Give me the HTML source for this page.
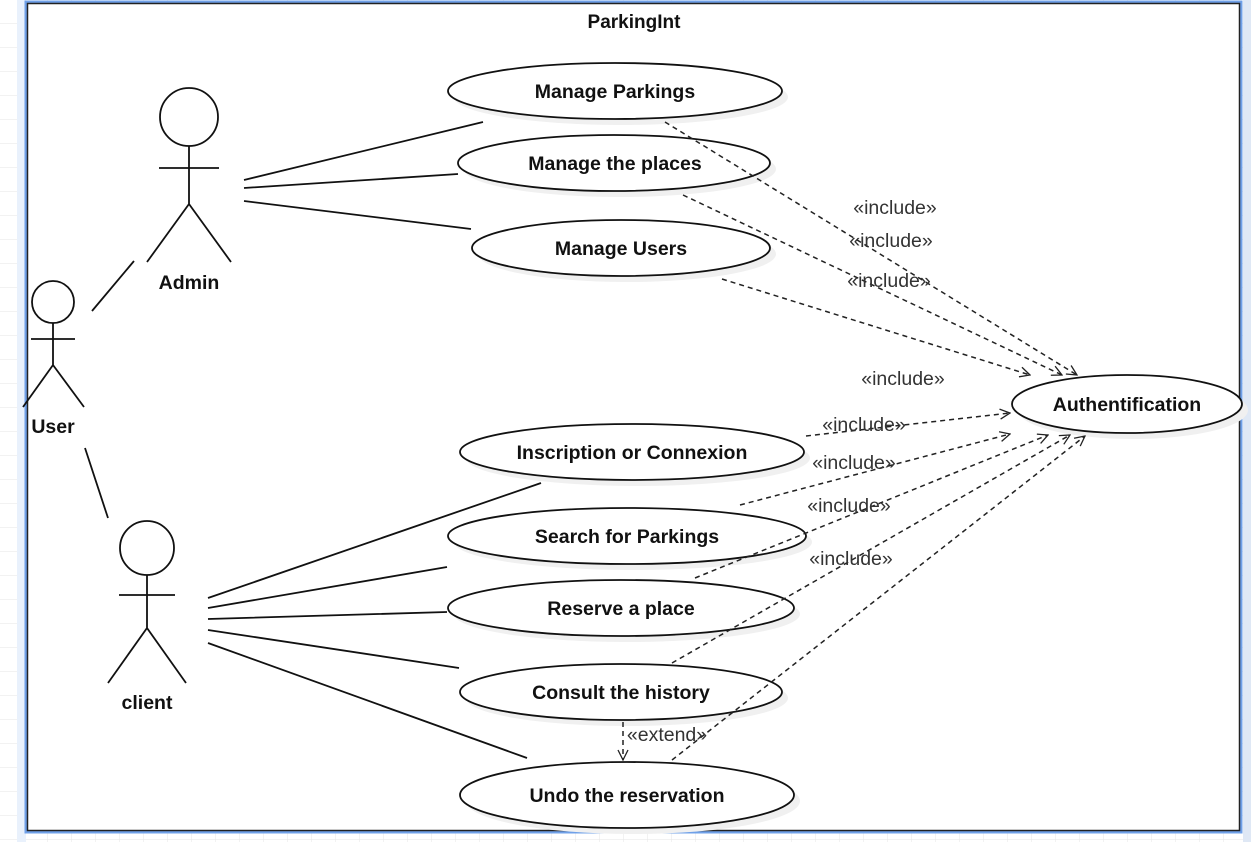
<!DOCTYPE html>
<html><head><meta charset="utf-8"><style>
html,body{margin:0;padding:0;background:#fff;}
svg{display:block;}
text{font-family:"Liberation Sans",Arial,sans-serif;}
</style></head><body>
<svg width="1251" height="842" viewBox="0 0 1251 842" xmlns="http://www.w3.org/2000/svg">
<defs>
<pattern id="g" width="24" height="24" patternUnits="userSpaceOnUse"><path d="M24 0V24M0 24H24" stroke="#e6e6e6" stroke-width="1" fill="none"/></pattern>
<marker id="a" viewBox="0 0 12 12" refX="11" refY="6" markerWidth="12" markerHeight="12" markerUnits="userSpaceOnUse" orient="auto"><path d="M1 1L11 6L1 11" fill="none" stroke="#222" stroke-width="1.3"/></marker>
</defs>
<rect width="1251" height="842" fill="url(#g)"/>
<rect x="1243" y="0" width="8" height="842" fill="#dfe8f5"/>
<rect x="17" y="0" width="9" height="842" fill="#e9f1fc"/>
<rect x="26" y="2" width="1215" height="830" fill="#fff" stroke="#6fa0e8" stroke-width="3"/>
<rect x="27.5" y="3.5" width="1212" height="827" fill="none" stroke="#222" stroke-width="1.5"/>
<text x="634" y="28" font-size="19" font-weight="bold" text-anchor="middle" fill="#111">ParkingInt</text>

<g fill="#f0f0f0">
<ellipse cx="621" cy="97" rx="167" ry="28"/>
<ellipse cx="620" cy="169" rx="156" ry="28"/>
<ellipse cx="627" cy="254" rx="149" ry="28"/>
<ellipse cx="1133" cy="410" rx="115" ry="29"/>
<ellipse cx="638" cy="458" rx="172" ry="28"/>
<ellipse cx="633" cy="542" rx="179" ry="28"/>
<ellipse cx="627" cy="614" rx="173" ry="28"/>
<ellipse cx="627" cy="698" rx="161" ry="28"/>
<ellipse cx="633" cy="801" rx="167" ry="33"/>
</g>
<g fill="#fff" stroke="#111" stroke-width="1.8">
<ellipse cx="615" cy="91" rx="167" ry="28"/>
<ellipse cx="614" cy="163" rx="156" ry="28"/>
<ellipse cx="621" cy="248" rx="149" ry="28"/>
<ellipse cx="1127" cy="404" rx="115" ry="29"/>
<ellipse cx="632" cy="452" rx="172" ry="28"/>
<ellipse cx="627" cy="536" rx="179" ry="28"/>
<ellipse cx="621" cy="608" rx="173" ry="28"/>
<ellipse cx="621" cy="692" rx="161" ry="28"/>
<ellipse cx="627" cy="795" rx="167" ry="33"/>
</g>
<g font-size="19.5" font-weight="bold" text-anchor="middle" fill="#111">
<text x="615" y="98">Manage Parkings</text>
<text x="615" y="170">Manage the places</text>
<text x="621" y="255">Manage Users</text>
<text x="1127" y="411">Authentification</text>
<text x="632" y="459">Inscription or Connexion</text>
<text x="627" y="543">Search for Parkings</text>
<text x="621" y="615">Reserve a place</text>
<text x="621" y="699">Consult the history</text>
<text x="627" y="802">Undo the reservation</text>
</g>

<g stroke="#111" stroke-width="1.8" fill="none">
<circle cx="189" cy="117" r="29"/>
<path d="M189 146V204M159 168H219M189 204L147 262M189 204L231 262"/>
<circle cx="53" cy="302" r="21"/>
<path d="M53 323V365M31 339H75M53 365L23 407M53 365L84 407"/>
<circle cx="147" cy="548" r="27"/>
<path d="M147 575V628M119 595H175M147 628L108 683M147 628L186 683"/>
<path d="M244 180L483 122M244 188L458 174M244 201L471 229"/>
<path d="M92 311L134 261M85 448L108 518"/>
<path d="M208 598L541 483M208 608L447 567M208 619L447 612M208 630L459 668M208 643L527 758"/>
</g>

<g stroke="#222" stroke-width="1.5" fill="none" stroke-dasharray="5 4" marker-end="url(#a)">
<path d="M665 122L1077 375"/>
<path d="M683 195L1062 375"/>
<path d="M722 279L1030 375"/>
<path d="M806 436L1010 413"/>
<path d="M740 505L1010 434"/>
<path d="M695 578L1048 435"/>
<path d="M672 663L1070 435"/>
<path d="M672 760L1085 436"/>
<path d="M623 722L623 760"/>
</g>

<g font-size="19.5" fill="#333" text-anchor="middle">
<text x="895" y="214">«include»</text>
<text x="891" y="247">«include»</text>
<text x="889" y="287">«include»</text>
<text x="903" y="385">«include»</text>
<text x="864" y="431">«include»</text>
<text x="854" y="469">«include»</text>
<text x="849" y="512">«include»</text>
<text x="851" y="565">«include»</text>
<text x="667" y="741">«extend»</text>
</g>
<g font-size="19.5" font-weight="bold" text-anchor="middle" fill="#111">
<text x="189" y="289">Admin</text>
<text x="53" y="433">User</text>
<text x="147" y="709">client</text>
</g>
</svg>
</body></html>
